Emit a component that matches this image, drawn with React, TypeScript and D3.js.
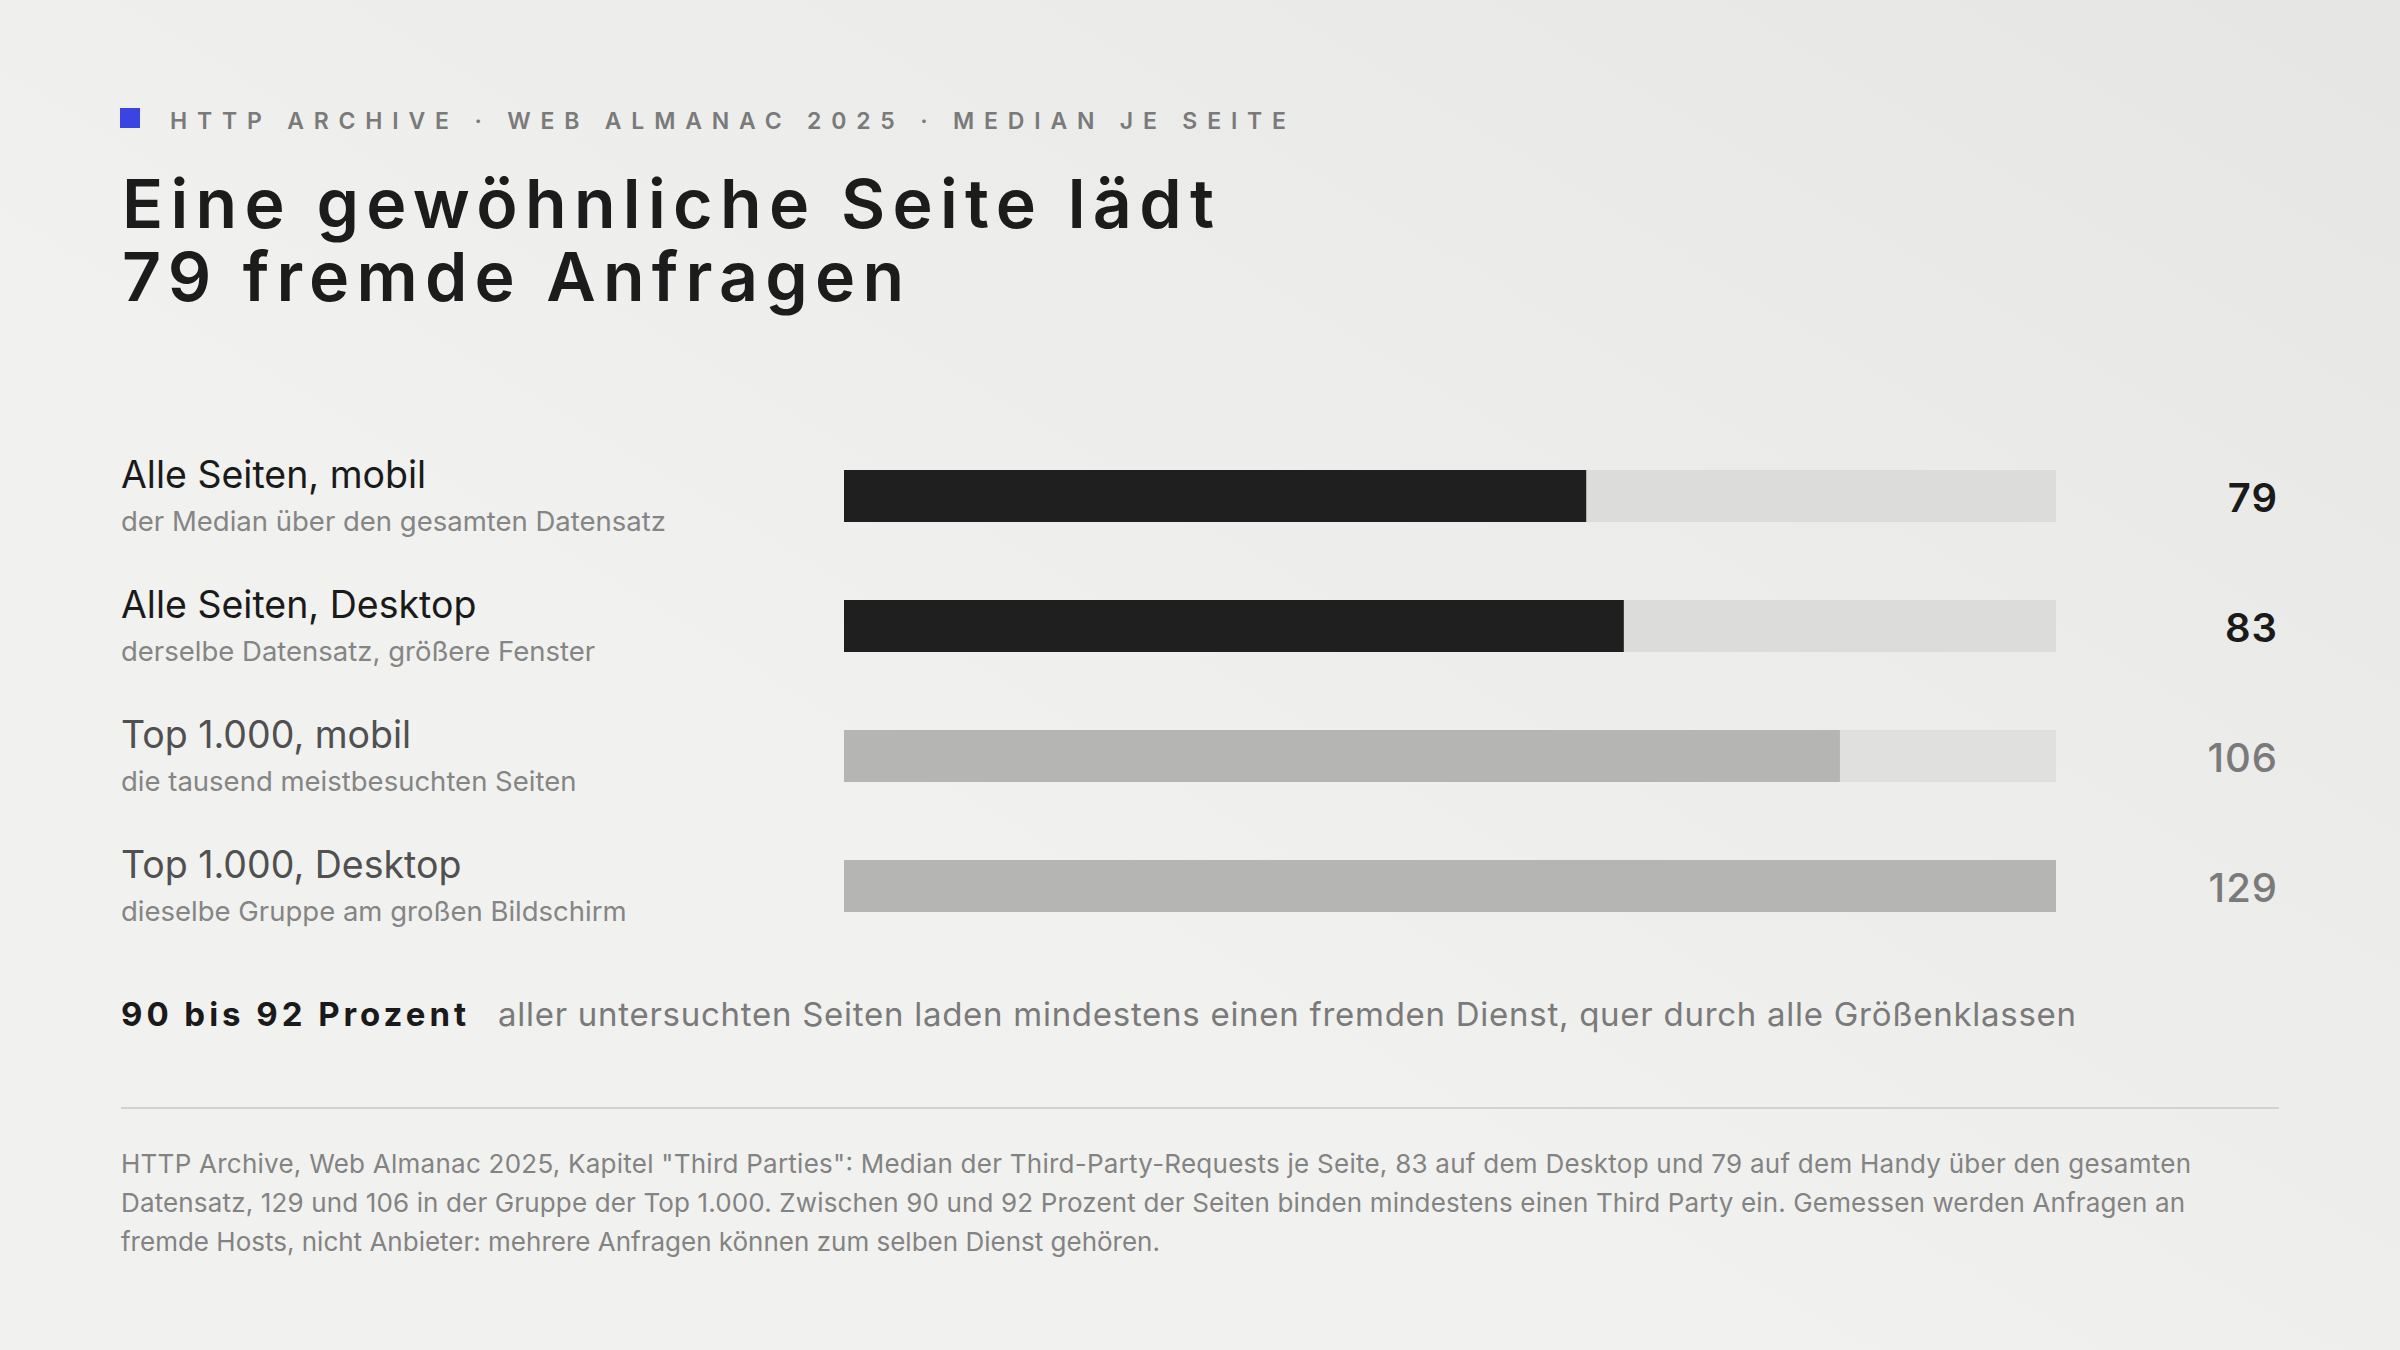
import React from "react";
import * as d3 from "d3";

const W = 2400;
const H = 1350;

const categories = ["Alle Seiten, mobil", "Alle Seiten, Desktop", "Top 1.000, mobil", "Top 1.000, Desktop"];
const subtitles = [
  "der Median über den gesamten Datensatz",
  "derselbe Datensatz, größere Fenster",
  "die tausend meistbesuchten Seiten",
  "dieselbe Gruppe am großen Bildschirm",
];
const values = [79, 83, 106, 129];
const highlight = [true, true, false, false];

const kicker = "HTTP ARCHIVE · WEB ALMANAC 2025 · MEDIAN JE SEITE";
const titleLines = ["Eine gewöhnliche Seite lädt", "79 fremde Anfragen"];
const calloutStrong = "90 bis 92 Prozent";
const calloutText = "aller untersuchten Seiten laden mindestens einen fremden Dienst, quer durch alle Größenklassen";
const footerLines = [
  "HTTP Archive, Web Almanac 2025, Kapitel \"Third Parties\": Median der Third-Party-Requests je Seite, 83 auf dem Desktop und 79 auf dem Handy über den gesamten",
  "Datensatz, 129 und 106 in der Gruppe der Top 1.000. Zwischen 90 und 92 Prozent der Seiten binden mindestens einen Third Party ein. Gemessen werden Anfragen an",
  "fremde Hosts, nicht Anbieter: mehrere Anfragen können zum selben Dienst gehören.",
];

const FONT = "Inter, 'Noto Sans', sans-serif";

export default function App() {
  const x = d3.scaleLinear().domain([0, d3.max(values) as number]).range([844, 2056]);
  const y = d3.scalePoint<string>().domain(categories).range([470, 860]);
  const barH = 52;

  return (
    <svg
      width={W}
      height={H}
      viewBox={`0 0 ${W} ${H}`}
      style={{ position: "fixed", left: 0, top: 0, display: "block" }}
      fontFamily={FONT}
    >
      <defs>
        <linearGradient id="bg" x1="1" y1="0" x2="0.35" y2="0.6">
          <stop offset="0" stopColor="#e6e6e4" />
          <stop offset="1" stopColor="#f1f1ef" />
        </linearGradient>
      </defs>
      <rect x={0} y={0} width={W} height={H} fill="#f1f1ef" />
      <rect x={0} y={0} width={W} height={H} fill="url(#bg)" />

      {/* kicker */}
      <rect x={120} y={108} width={20} height={20} fill="#3b44e2" />
      <text
        x={170}
        y={129}
        fontSize={23}
        fontWeight={600}
        fill="#7a7a7a"
        textLength={1116}
        lengthAdjust="spacing"
      >
        {kicker}
      </text>

      {/* title */}
      <text fontSize={68} fontWeight={600} fill="#1c1c1c">
        <tspan x={122} y={228} textLength={1092} lengthAdjust="spacing">
          {titleLines[0]}
        </tspan>
        <tspan x={122} y={301} textLength={782} lengthAdjust="spacing">
          {titleLines[1]}
        </tspan>
      </text>

      {/* rows */}
      {categories.map((c, i) => {
        const top = y(c) as number;
        const dark = highlight[i];
        return (
          <g key={c}>
            <text x={121} y={top + 18} fontSize={37.5} fontWeight={400} fill={dark ? "#1a1a1a" : "#505050"}>
              {c}
            </text>
            <text x={121} y={top + 61} fontSize={27.5} fill="#858585">
              {subtitles[i]}
            </text>
            <rect x={x(0)} y={top} width={x(d3.max(values) as number) - x(0)} height={barH} fill={dark ? "#dcdcda" : "#e0e0de"} />
            <rect x={x(0)} y={top} width={x(values[i]) - x(0)} height={barH} fill={dark ? "#1f1f1f" : "#b5b5b3"} />
            <text
              x={2278}
              y={top + 42}
              textAnchor="end"
              fontSize={40}
              fontWeight={dark ? 600 : 500}
              fill={dark ? "#1a1a1a" : "#7a7a7a"}
              letterSpacing={1}
            >
              {values[i]}
            </text>
          </g>
        );
      })}

      {/* callout */}
      <text x={121} y={1026} fontSize={33} fontWeight={700} fill="#1a1a1a" textLength={345} lengthAdjust="spacing">
        {calloutStrong}
      </text>
      <text x={498} y={1026} fontSize={33} fill="#7a7a7a" textLength={1578} lengthAdjust="spacing">
        {calloutText}
      </text>

      {/* divider */}
      <line x1={121} x2={2279} y1={1108} y2={1108} stroke="#d2d2d0" strokeWidth={2} />

      {/* footer */}
      {footerLines.map((l, i) => (
        <text
          key={i}
          x={121}
          y={1173 + i * 39}
          fontSize={26}
          fill="#838383"
          {...(i < 2 ? { textLength: i === 0 ? 2070 : 2064, lengthAdjust: "spacing" } : {})}
        >
          {l}
        </text>
      ))}
    </svg>
  );
}
